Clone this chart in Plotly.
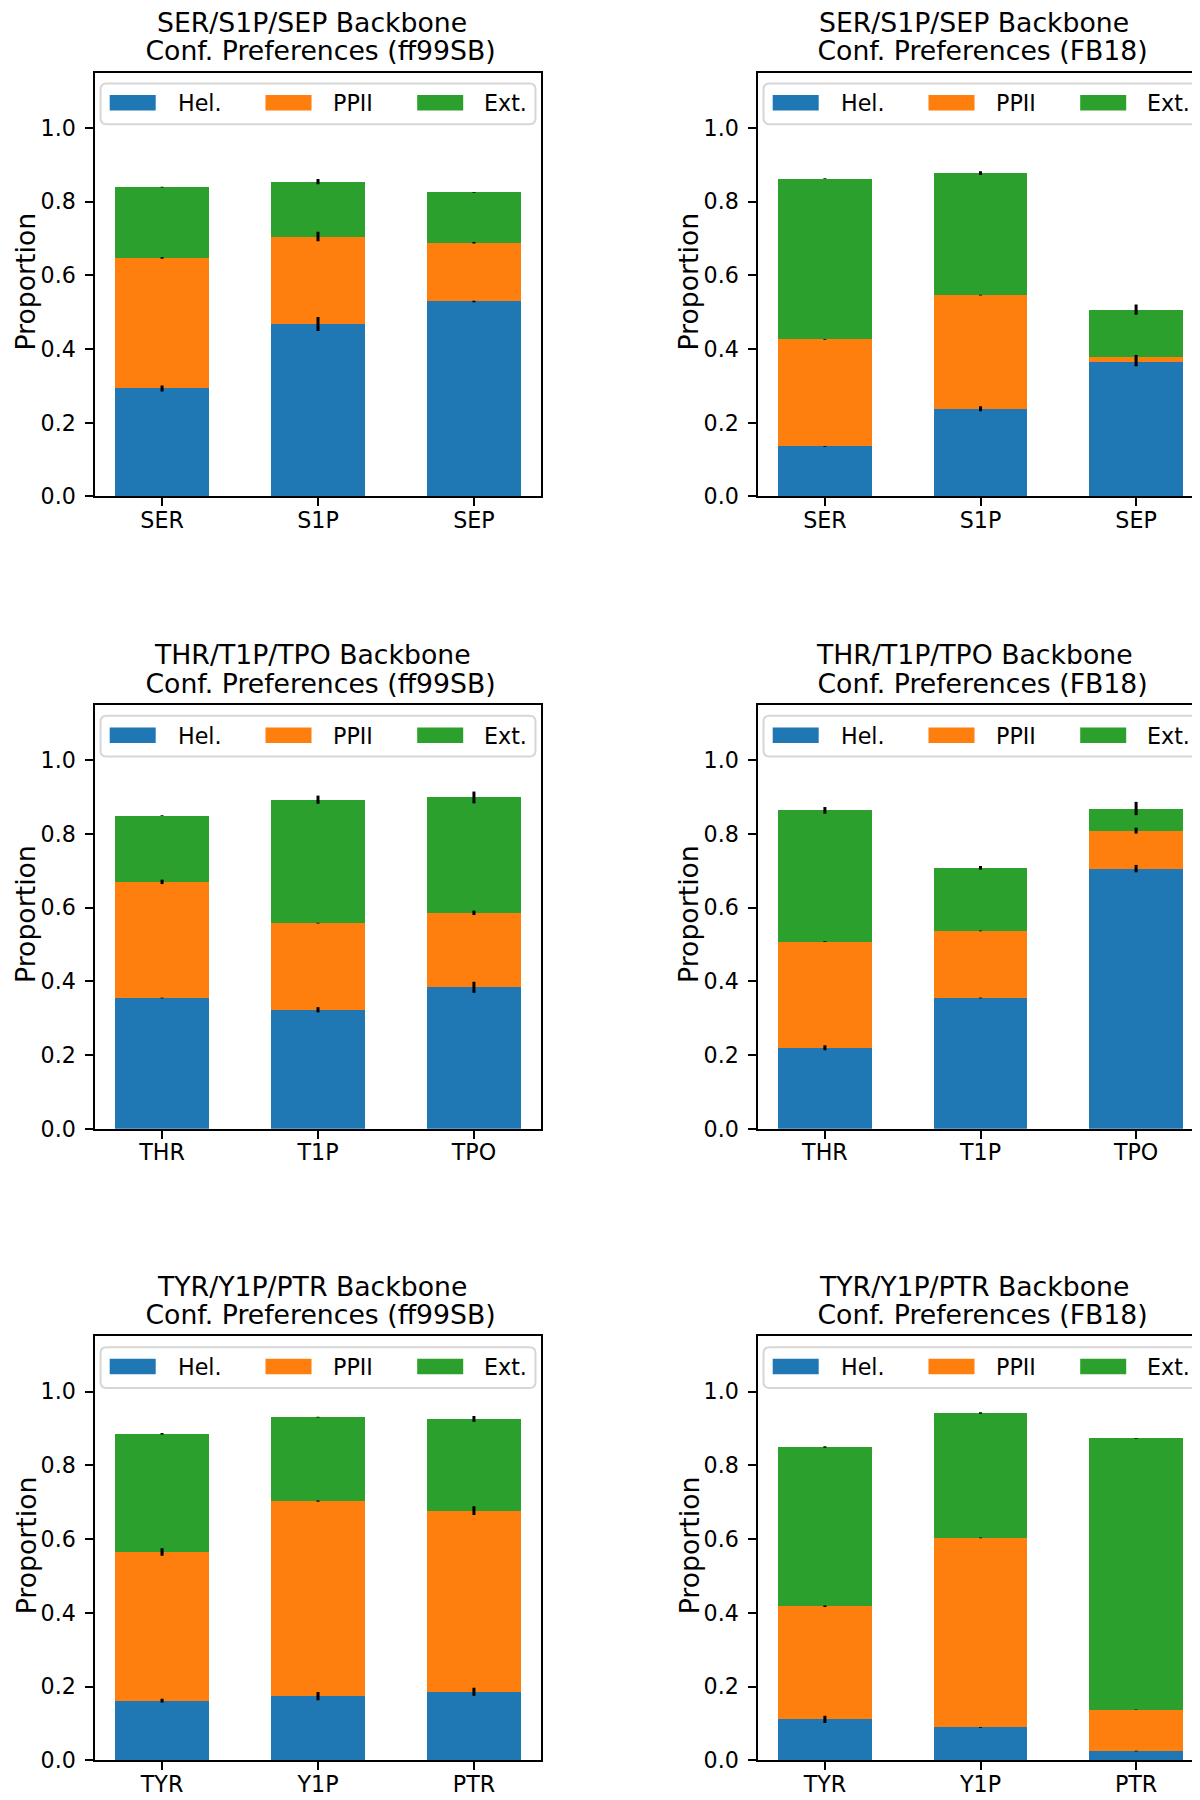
import numpy as np
import plotly.graph_objects as go

# ---------------- data ----------------
ser_cats = ["SER", "S1P", "SEP"]
thr_cats = ["THR", "T1P", "TPO"]
tyr_cats = ["TYR", "Y1P", "PTR"]

series_names = ["Hel.", "PPII", "Ext."]
series_colors = ["#1f77b4", "#ff7f0e", "#2ca02c"]

# SER / S1P / SEP  - ff99SB
ser_ff_hel = [0.293, 0.468, 0.529]
ser_ff_ppii = [0.354, 0.237, 0.159]
ser_ff_ext = [0.192, 0.149, 0.137]
ser_ff_hel_err = [0.008, 0.019, 0.002]
ser_ff_ppii_err = [0.002, 0.013, 0.002]
ser_ff_ext_err = [0.001, 0.007, 0.001]

# SER / S1P / SEP  - FB18
ser_fb_hel = [0.136, 0.238, 0.364]
ser_fb_ppii = [0.290, 0.308, 0.014]
ser_fb_ext = [0.436, 0.331, 0.129]
ser_fb_hel_err = [0.001, 0.007, 0.011]
ser_fb_ppii_err = [0.001, 0.001, 0.006]
ser_fb_ext_err = [0.001, 0.005, 0.014]

# THR / T1P / TPO  - ff99SB
thr_ff_hel = [0.355, 0.323, 0.384]
thr_ff_ppii = [0.315, 0.235, 0.202]
thr_ff_ext = [0.180, 0.335, 0.313]
thr_ff_hel_err = [0.001, 0.007, 0.015]
thr_ff_ppii_err = [0.006, 0.001, 0.006]
thr_ff_ext_err = [0.001, 0.011, 0.016]

# THR / T1P / TPO  - FB18
thr_fb_hel = [0.220, 0.355, 0.706]
thr_fb_ppii = [0.288, 0.182, 0.103]
thr_fb_ext = [0.356, 0.171, 0.060]
thr_fb_hel_err = [0.007, 0.001, 0.010]
thr_fb_ppii_err = [0.001, 0.001, 0.008]
thr_fb_ext_err = [0.009, 0.005, 0.018]

# TYR / Y1P / PTR  - ff99SB
tyr_ff_hel = [0.162, 0.174, 0.186]
tyr_ff_ppii = [0.403, 0.529, 0.491]
tyr_ff_ext = [0.321, 0.228, 0.249]
tyr_ff_hel_err = [0.005, 0.011, 0.011]
tyr_ff_ppii_err = [0.010, 0.002, 0.012]
tyr_ff_ext_err = [0.002, 0.001, 0.008]

# TYR / Y1P / PTR  - FB18
tyr_fb_hel = [0.111, 0.089, 0.025]
tyr_fb_ppii = [0.307, 0.514, 0.112]
tyr_fb_ext = [0.432, 0.339, 0.736]
tyr_fb_hel_err = [0.010, 0.001, 0.001]
tyr_fb_ppii_err = [0.002, 0.001, 0.001]
tyr_fb_ext_err = [0.002, 0.002, 0.001]

y_ticks = [0.0, 0.2, 0.4, 0.6, 0.8, 1.0]
y_tick_labels = ["0.0", "0.2", "0.4", "0.6", "0.8", "1.0"]

panels = [
    (ser_cats, [ser_ff_hel, ser_ff_ppii, ser_ff_ext], [ser_ff_hel_err, ser_ff_ppii_err, ser_ff_ext_err],
     "SER/S1P/SEP Backbone", "Conf. Preferences (ff99SB)", 0, 0),
    (ser_cats, [ser_fb_hel, ser_fb_ppii, ser_fb_ext], [ser_fb_hel_err, ser_fb_ppii_err, ser_fb_ext_err],
     "SER/S1P/SEP Backbone", "Conf. Preferences (FB18)", 0, 1),
    (thr_cats, [thr_ff_hel, thr_ff_ppii, thr_ff_ext], [thr_ff_hel_err, thr_ff_ppii_err, thr_ff_ext_err],
     "THR/T1P/TPO Backbone", "Conf. Preferences (ff99SB)", 1, 0),
    (thr_cats, [thr_fb_hel, thr_fb_ppii, thr_fb_ext], [thr_fb_hel_err, thr_fb_ppii_err, thr_fb_ext_err],
     "THR/T1P/TPO Backbone", "Conf. Preferences (FB18)", 1, 1),
    (tyr_cats, [tyr_ff_hel, tyr_ff_ppii, tyr_ff_ext], [tyr_ff_hel_err, tyr_ff_ppii_err, tyr_ff_ext_err],
     "TYR/Y1P/PTR Backbone", "Conf. Preferences (ff99SB)", 2, 0),
    (tyr_cats, [tyr_fb_hel, tyr_fb_ppii, tyr_fb_ext], [tyr_fb_hel_err, tyr_fb_ppii_err, tyr_fb_ext_err],
     "TYR/Y1P/PTR Backbone", "Conf. Preferences (FB18)", 2, 1),
]

# ---------------- layout geometry (pixels) ----------------
W, H = 1200, 1800
col_left = [87, 750]
col_width = [446, 445]
row_top = [65, 702, 1338]
row_height = 427
FONT = "DejaVu Sans"
TICK_SIZE = 22.2
TITLE_SIZE = 26.7


def px_x(p):
    return p / W


def px_y(p):
    return 1 - p / H


fig = go.Figure()
layout = dict(
    width=W, height=H, margin=dict(l=0, r=0, t=0, b=0),
    paper_bgcolor="white", plot_bgcolor="white",
    barmode="stack", showlegend=False,
    font=dict(family=FONT, size=TICK_SIZE, color="black"),
)
shapes = []
annotations = []

for i, (cats, vals, errs, t1, t2, r, c) in enumerate(panels):
    n = i + 1
    xa = "x" if n == 1 else f"x{n}"
    ya = "y" if n == 1 else f"y{n}"
    L, Wd = col_left[c], col_width[c]
    T = row_top[r]
    bottoms = np.zeros(len(cats))
    for k in range(3):
        v = np.array(vals[k])
        fig.add_trace(go.Bar(
            x=cats, y=v, width=0.6, xaxis=xa, yaxis=ya,
            marker=dict(color=series_colors[k], line=dict(width=0)),
            name=series_names[k], hoverinfo="skip",
        ))
        bottoms = bottoms + v
        fig.add_trace(go.Scatter(
            x=cats, y=bottoms.copy(), mode="markers", xaxis=xa, yaxis=ya,
            marker=dict(size=1, color="rgba(0,0,0,0)"),
            error_y=dict(type="data", array=errs[k], thickness=3, width=0, color="black"),
            hoverinfo="skip",
        ))
    xkey = "xaxis" if n == 1 else f"xaxis{n}"
    ykey = "yaxis" if n == 1 else f"yaxis{n}"
    layout[xkey] = dict(
        domain=[px_x(L), px_x(L + Wd)], anchor=ya, type="category",
        range=[-0.43, 2.43], showline=True, mirror=True, linecolor="black", linewidth=1.8,
        ticks="outside", ticklen=7.8, tickwidth=1.8, tickcolor="black",
        showgrid=False, zeroline=False, tickfont=dict(family=FONT, size=TICK_SIZE, color="black"),
        ticklabelstandoff=-5, fixedrange=True,
    )
    layout[ykey] = dict(
        domain=[px_y(T + row_height), px_y(T)], anchor=xa,
        range=[0, 1.15], showline=True, mirror=True, linecolor="black", linewidth=1.8,
        ticks="outside", ticklen=7.8, tickwidth=1.8, tickcolor="black",
        tickvals=y_ticks, ticktext=y_tick_labels,
        showgrid=False, zeroline=False, tickfont=dict(family=FONT, size=TICK_SIZE, color="black"),
        ticklabelstandoff=5, fixedrange=True,
    )
    # titles (two lines)
    cx = L + Wd / 2
    annotations.append(dict(text=t1 + "\u00a0", x=px_x(cx - 2), y=px_y(T - 50.5), xref="paper", yref="paper",
                            xanchor="center", yanchor="middle", showarrow=False, borderpad=0,
                            font=dict(family=FONT, size=TITLE_SIZE, color="black")))
    annotations.append(dict(text="\u00a0" + t2, x=px_x(cx - 2), y=px_y(T - 22), xref="paper", yref="paper",
                            xanchor="center", yanchor="middle", showarrow=False, borderpad=0,
                            font=dict(family=FONT, size=TITLE_SIZE, color="black")))
    # y-axis title
    annotations.append(dict(text="Proportion", x=px_x(L - 69), y=px_y(T + row_height / 2 - 3), xref="paper",
                            yref="paper", xanchor="center", yanchor="middle", textangle=-90, showarrow=False,
                            borderpad=0, font=dict(family=FONT, size=TITLE_SIZE, color="black")))
    # legend frame (rounded)
    bx0, bx1 = L + 5.5, L + Wd - 5.5
    by0, by1 = T + 11, T + 52
    rad = 6
    rx, ry = rad / W, rad / H
    X0, X1, Y0, Y1 = px_x(bx0), px_x(bx1), px_y(by1), px_y(by0)
    path = (f"M {X0 + rx},{Y0} L {X1 - rx},{Y0} Q {X1},{Y0} {X1},{Y0 + ry} "
            f"L {X1},{Y1 - ry} Q {X1},{Y1} {X1 - rx},{Y1} L {X0 + rx},{Y1} "
            f"Q {X0},{Y1} {X0},{Y1 - ry} L {X0},{Y0 + ry} Q {X0},{Y0} {X0 + rx},{Y0} Z")
    shapes.append(dict(type="path", path=path, xref="paper", yref="paper",
                       fillcolor="rgba(255,255,255,0.8)", line=dict(color="#d6d6d6", width=2), layer="above"))
    handle_off = [14.7, 170.5, 322.2]
    text_off = [81.6, 236.8, 388.1]
    for k in range(3):
        shapes.append(dict(type="rect", xref="paper", yref="paper",
                           x0=px_x(L + handle_off[k]), x1=px_x(L + handle_off[k] + 46),
                           y0=px_y(T + 38.3), y1=px_y(T + 22.7),
                           fillcolor=series_colors[k], line=dict(width=0), layer="above"))
        annotations.append(dict(text=series_names[k], x=px_x(L + text_off[k]), y=px_y(T + 31),
                                xref="paper", yref="paper", xanchor="left", yanchor="middle",
                                showarrow=False, borderpad=0,
                                font=dict(family=FONT, size=TICK_SIZE, color="black")))

layout["shapes"] = shapes
layout["annotations"] = annotations
fig.update_layout(**layout)
fig.write_html("out.html")
